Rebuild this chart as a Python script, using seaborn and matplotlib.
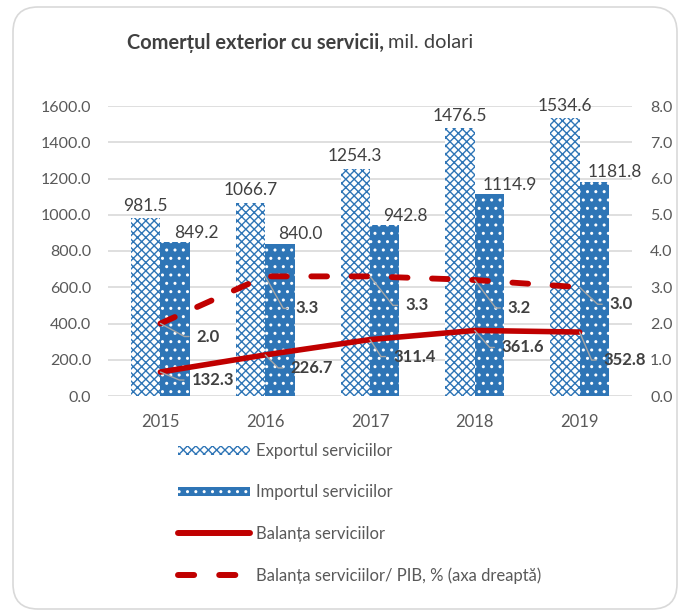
import math
import numpy as np
import pandas as pd
import seaborn as sns
import matplotlib
matplotlib.use("Agg")
import matplotlib.pyplot as plt
import matplotlib.patches as mpatches
from matplotlib.lines import Line2D

# data
years = ["2015", "2016", "2017", "2018", "2019"]
export_vals = [981.5, 1066.7, 1254.3, 1476.5, 1534.6]
import_vals = [849.2, 840.0, 942.8, 1114.9, 1181.8]
balance_vals = [132.3, 226.7, 311.4, 361.6, 352.8]
balance_gdp = [2.0, 3.3, 3.3, 3.2, 3.0]
series_names = ["Exportul serviciilor", "Importul serviciilor",
                "Balanța serviciilor", "Balanța serviciilor/ PIB, % (axa dreaptă)"]

BLUE = "#2E75B6"
RED = "#C00000"
TXT = "#595959"
LBL = "#404040"
GRID = "#D9D9D9"
CHECK = "xxxx"
DOTS = ".."

sns.set_theme(style="white")
plt.rcParams["font.family"] = ["Lato", "DejaVu Sans"]
plt.rcParams["hatch.linewidth"] = 1.0

fig = plt.figure(figsize=(6.84, 6.10), dpi=100)
ax = fig.add_axes([108 / 684, 1 - 396 / 610, 524 / 684, 290 / 610])

df = pd.DataFrame({
    "year": years * 2,
    "value": export_vals + import_vals,
    "series": [series_names[0]] * len(years) + [series_names[1]] * len(years),
})
sns.barplot(data=df, x="year", y="value", hue="series", width=0.56,
            palette=[BLUE, BLUE], legend=False, ax=ax)

# export: checkered pattern, import: solid blue with white dots
for bar in ax.containers[0]:
    bar.set_facecolor("white")
    bar.set_edgecolor(BLUE)
    bar.set_hatch(CHECK)
    bar.set_linewidth(0)
for bar in ax.containers[1]:
    bar.set_facecolor(BLUE)
    bar.set_edgecolor("white")
    bar.set_hatch(DOTS)
    bar.set_linewidth(0)

ax.bar_label(ax.containers[0], fmt="%.1f", padding=3, fontsize=12.5, color=LBL)
imp_labels = ax.bar_label(ax.containers[1], fmt="%.1f", padding=1, fontsize=12.5, color=LBL)
for t in imp_labels:
    # import labels sit a bit to the right of their bars
    t.xyann = (15, t.xyann[1])

xpos = np.arange(len(years))
sns.lineplot(x=xpos, y=balance_vals, color=RED, lw=4, ax=ax,
             solid_capstyle="round", zorder=5)

ax2 = ax.twinx()
sns.lineplot(x=xpos, y=balance_gdp, color=RED, lw=4.2, ax=ax2,
             dashes=False, zorder=5)
ax2.lines[0].set_dashes((2.7, 4.2))
ax2.lines[0].set_dash_capstyle("round")

ax.set_xlim(-0.5, len(years) - 0.5)
ax.set_ylim(0, 1600)
ax.set_yticks(np.arange(0, 1601, 200))
ax.set_yticklabels([f"{v:.1f}" for v in np.arange(0, 1601, 200)])
ax2.set_ylim(0, 8)
ax2.set_yticks(np.arange(0, 9, 1))
ax2.set_yticklabels([f"{v:.1f}" for v in np.arange(0, 9, 1)])
ax.set_xticks(xpos)
ax.set_xticklabels(years)
ax.set_xlabel("")
ax.set_ylabel("")
ax.grid(axis="y", color=GRID, lw=1.2)
ax.set_axisbelow(True)
ax.tick_params(axis="y", length=0, pad=12, labelsize=11.5, labelcolor=TXT)
ax.tick_params(axis="x", length=0, pad=13, labelsize=12, labelcolor=TXT)
ax2.tick_params(axis="y", length=0, pad=13, labelsize=11.5, labelcolor=TXT)
for a in (ax, ax2):
    for s in a.spines.values():
        s.set_visible(False)
ax.patch.set_visible(False)

# bold value labels with leader lines (offsets in px: right, down)
gdp_offsets = [(36, 13), (30, 32), (35, 29), (33, 28), (30, 17)]
bal_offsets = [(31, 8), (25, 13), (23, 17), (27, 17), (24, 28)]


def leader_label(axis, x, y, txt, off):
    dx, dy = off
    ang = math.degrees(math.atan2(-dy, dx - 12))
    axis.annotate(txt, xy=(x, y), xytext=(dx * 0.72, -dy * 0.72),
                  textcoords="offset points", ha="left", va="center",
                  fontsize=12, fontweight="bold", color=LBL, zorder=6,
                  arrowprops=dict(arrowstyle="-", color="#A6A6A6", lw=1,
                                  relpos=(0, 0.5), shrinkA=3, shrinkB=0,
                                  connectionstyle=f"angle,angleA=0,angleB={ang:.1f},rad=0"))


for i, v in enumerate(balance_gdp):
    leader_label(ax2, xpos[i], v, f"{v:.1f}", gdp_offsets[i])
for i, v in enumerate(balance_vals):
    leader_label(ax, xpos[i], v, f"{v:.1f}", bal_offsets[i])

# title: bold part + normal part
t1 = fig.text(127 / 684, 1 - 43 / 610, "Comerțul exterior cu servicii,",
              fontsize=14.4, fontweight="bold", color=LBL, va="center")
rend = fig.canvas.get_renderer()
bb = t1.get_window_extent(renderer=rend)
fig.text((bb.x1 + 4) / fig.bbox.width, 1 - 43 / 610, "mil. dolari",
         fontsize=14.4, color=LBL, va="center")

handles = [
    mpatches.Patch(facecolor="white", edgecolor=BLUE, hatch=CHECK, lw=0),
    mpatches.Patch(facecolor=BLUE, edgecolor="white", hatch=DOTS, lw=0),
    Line2D([], [], color=RED, lw=4.3, solid_capstyle="round"),
    Line2D([], [], color=RED, lw=4.3, dashes=(2.7, 4.2), dash_capstyle="round"),
]
fig.legend(handles, series_names, loc="upper left",
           bbox_to_anchor=(178 / 684, 1 - 443 / 610), frameon=False,
           fontsize=12, labelcolor=TXT, handlelength=4.3, handleheight=0.45,
           handletextpad=0.35, labelspacing=1.52, borderpad=0, borderaxespad=0)

# rounded outer frame
frame = mpatches.FancyBboxPatch((0.13, 0.01), 6.64, 6.02,
                                boxstyle="round,pad=0,rounding_size=0.25",
                                transform=fig.dpi_scale_trans,
                                facecolor="none", edgecolor=GRID, lw=1.2)
fig.add_artist(frame)

fig.savefig("out.png", dpi=100)
